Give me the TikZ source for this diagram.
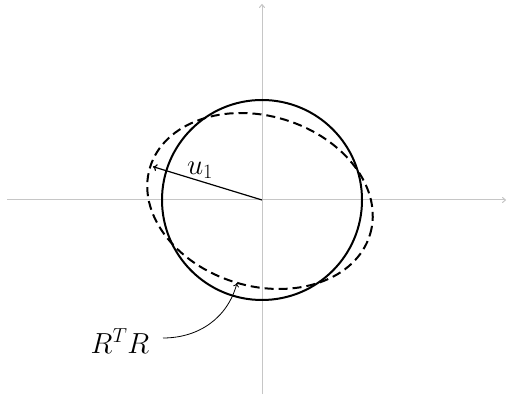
\RequirePackage{fix-cm}
\documentclass[tikz,border=0pt]{standalone}
\usetikzlibrary{arrows.meta,calc}
\begin{document}
\begin{tikzpicture}[x=1pt,y=1pt,
  axis/.style={gray!45,line width=1pt,-{To[length=4pt,width=6pt]}},
  curvebold/.style={black,line width=2pt},
  lbl/.style={font=\fontsize{29}{35}\selectfont,inner sep=0pt}]
\useasboundingbox (0,0) rectangle (510,398);
\coordinate (O) at (262,198);
\coordinate (E) at (260,197);
\coordinate (xl) at (7,198);
\coordinate (xr) at (506,198);
\coordinate (yb) at (262,394);
\coordinate (yt) at (262,4);
\draw[axis] (xl) -- (xr);
\draw[axis] (yt) -- (yb);
\draw[curvebold] (O) circle[radius=100];
\draw[curvebold,dash pattern=on 9pt off 5pt] (E) circle[x radius=115,y radius=85,rotate=-17];
\coordinate (tip) at ($(O)+(163:114)$);
\draw[line width=1.2pt,-{To[length=4pt,width=7pt]}] (O) -- (tip);
\node[lbl] (u) at (200,228) {$u_1$};
\node[lbl] (rtr) at (120,57) {$R^TR$};
\coordinate (st) at (163,60);
\coordinate (tipb) at (237,115);
\draw[line width=0.8pt,-{To[length=4pt,width=6pt]}] (st) to[out=0,in=-105] (tipb);
\end{tikzpicture}
\end{document}
